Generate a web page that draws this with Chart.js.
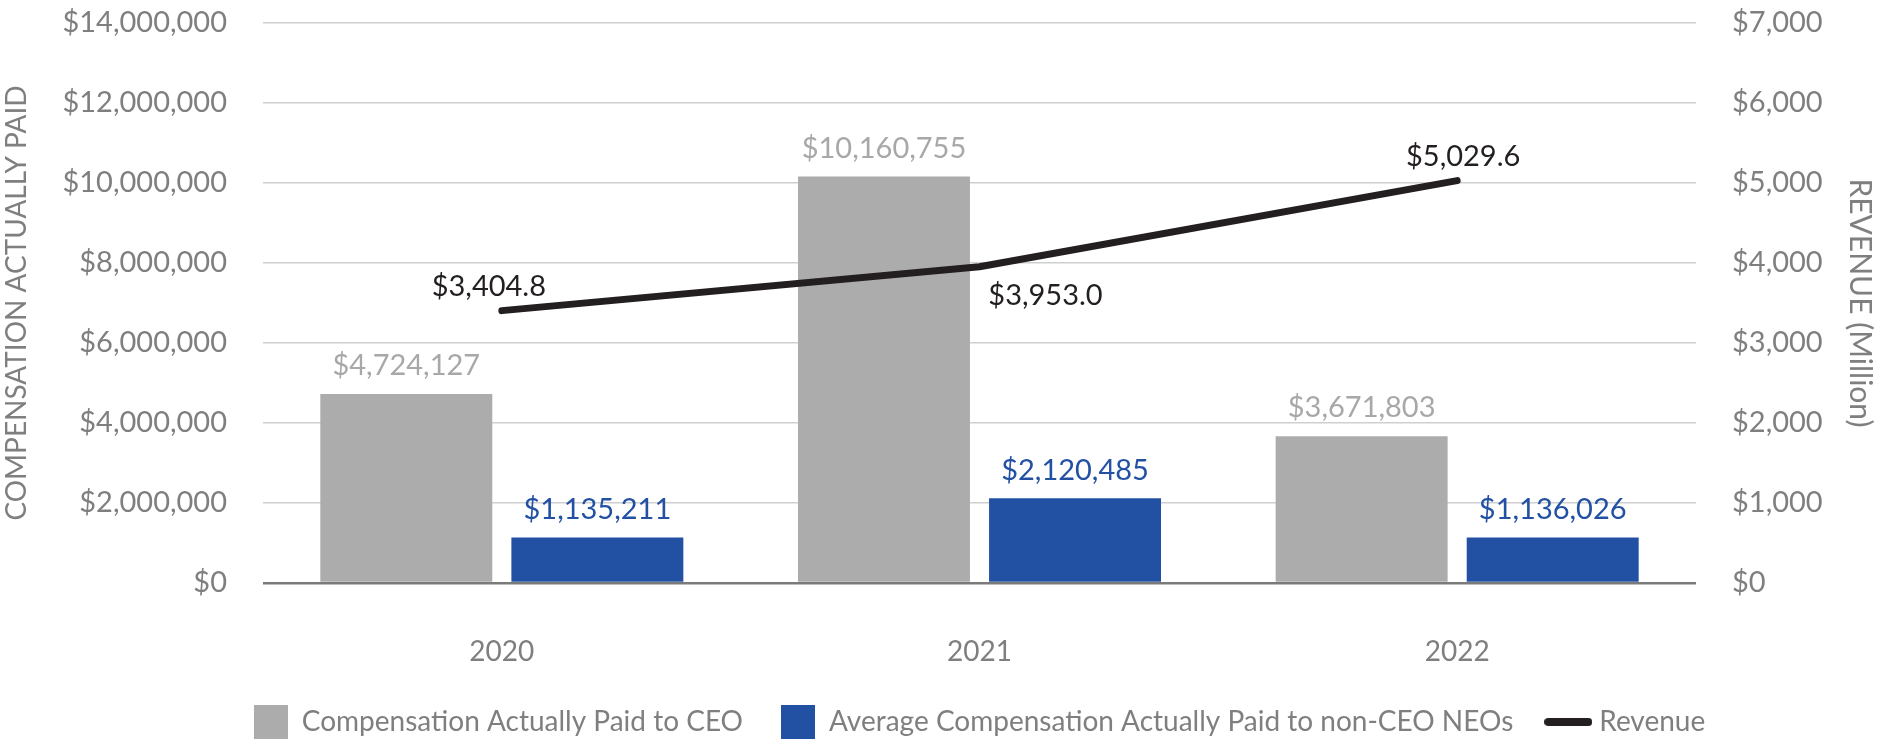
<!DOCTYPE html>
<html lang="en">
<head>
  <meta charset="UTF-8">
  <title>Compensation Actually Paid vs Revenue</title>
  <script src="https://cdn.jsdelivr.net/npm/chart.js"></script>
  <style>
    body { margin: 0; background: #fff; }
    #contenedor { width: 1878px; height: 742px; }
  </style>
</head>
<body>
  <div id="contenedor"><canvas id="grafico"></canvas></div>
<script>
  // data
  const years = ['2020', '2021', '2022'];
  const ceoPay = [4724127, 10160755, 3671803];
  const neoPay = [1135211, 2120485, 1136026];
  const revenue = [3404.8, 3953.0, 5029.6];
  const seriesNames = [
    'Compensation Actually Paid to CEO',
    'Average Compensation Actually Paid to non-CEO NEOs',
    'Revenue'
  ];

  const GRAY = '#adacad';
  const BLUE = '#2251a4';
  const BLACK = '#231f20';
  const TEXT = '#7f7f7f';
  const FONT = 'Lato, "Open Sans", sans-serif';

  // revenue labels don't sit right on the point, nudge them (px)
  const revLabelShift = [[-13, -24], [66, 29], [6, -24]];

  const money = v => '$' + v.toLocaleString('en-US');
  const money1 = v => '$' + v.toLocaleString('en-US', { minimumFractionDigits: 1, maximumFractionDigits: 1 });

  // little canvases used as legend swatches
  function swatch(w, h, color, round) {
    const c = document.createElement('canvas');
    c.width = w;
    c.height = h;
    const g = c.getContext('2d');
    g.fillStyle = color;
    g.beginPath();
    if (round) g.roundRect(0, 0, w, h, h / 2);
    else g.rect(0, 0, w, h);
    g.fill();
    return c;
  }
  const swatches = [swatch(34, 34, GRAY), swatch(34, 34, BLUE), swatch(48, 8, BLACK, true)];

  // value labels over bars / near line points
  const valueLabels = {
    id: 'valueLabels',
    afterDatasetsDraw(chart) {
      const ctx = chart.ctx;
      ctx.save();
      ctx.font = '29px ' + FONT;
      ctx.textAlign = 'center';
      ctx.textBaseline = 'middle';
      chart.data.datasets.forEach((ds, i) => {
        chart.getDatasetMeta(i).data.forEach((el, j) => {
          const v = ds.data[j];
          ctx.fillStyle = ds.labelColor;
          if (ds.type === 'line') {
            ctx.fillText(money1(v), el.x + revLabelShift[j][0], el.y + revLabelShift[j][1]);
          } else {
            ctx.fillText(money(v), el.x, el.y - 28);
          }
        });
      });
      ctx.restore();
    }
  };

  // put the legend row under the plot area, at the same height as the original
  const legendSpot = {
    id: 'legendSpot',
    afterLayout(chart) {
      const L = chart.legend;
      const pad = L.options.labels.padding;
      const fs = L.options.labels.font.size;
      const dx = (chart.chartArea.left + chart.chartArea.right) / 2 - (L.left + L.right) / 2;
      const dy = 722 - (L.top + pad + fs / 2);
      L.left += dx; L.right += dx;
      L.top += dy; L.bottom += dy;
    }
  };

  // no automatic room for half tick labels, the plot area is set by hand
  const noEdgePad = s => { s.paddingTop = 0; s.paddingBottom = 0; };

  const ctx = document.getElementById('grafico').getContext('2d');
  const chart = new Chart(ctx, {
    data: {
      labels: years,
      datasets: [
        { type: 'bar', label: seriesNames[0], data: ceoPay, backgroundColor: GRAY, yAxisID: 'y', order: 1, labelColor: '#a8a8a8' },
        { type: 'bar', label: seriesNames[1], data: neoPay, backgroundColor: BLUE, yAxisID: 'y', order: 1, labelColor: BLUE },
        {
          type: 'line', label: seriesNames[2], data: revenue, yAxisID: 'y1', order: 0,
          borderColor: BLACK, borderWidth: 7, pointRadius: 0, tension: 0,
          borderCapStyle: 'round', borderJoinStyle: 'round', labelColor: BLACK
        }
      ]
    },
    options: {
      responsive: true,
      maintainAspectRatio: false,
      animation: false,
      layout: { padding: { top: 23, left: 0, right: 0, bottom: 0 } },
      plugins: {
        tooltip: { enabled: false },
        legend: {
          position: 'bottom',
          labels: {
            usePointStyle: true,
            pointStyleWidth: 34,
            padding: 38,
            color: TEXT,
            font: { family: FONT, size: 28 },
            generateLabels: ch => ch.data.datasets.map((ds, i) => ({
              text: ds.label,
              pointStyle: swatches[i],
              fillStyle: 'transparent',
              strokeStyle: 'transparent',
              lineWidth: 0,
              fontColor: TEXT,
              hidden: !ch.isDatasetVisible(i),
              datasetIndex: i
            }))
          }
        }
      },
      scales: {
        x: {
          grid: { display: false },
          border: { display: false },
          ticks: { padding: 44, color: TEXT, font: { family: FONT, size: 28 } },
          afterFit(s) { s.height = s.chart.height - 583 - s.chart.legend.height; }
        },
        y: {
          position: 'left',
          min: 0,
          max: 14000000,
          ticks: { stepSize: 2000000, padding: 36, color: TEXT, font: { family: FONT, size: 29 }, callback: v => money(v) },
          grid: {
            drawTicks: false,
            color: c => c.tick.value === 0 ? '#7a7a7a' : '#cfcfcf',
            lineWidth: c => c.tick.value === 0 ? 2.5 : 1.5
          },
          border: { display: false },
          title: { display: true, text: 'COMPENSATION ACTUALLY PAID', color: TEXT, padding: 0, font: { family: FONT, size: 28 } },
          afterFit(s) { s.width = 263; noEdgePad(s); }
        },
        y1: {
          position: 'right',
          min: 0,
          max: 7000,
          ticks: { stepSize: 1000, padding: 36, color: TEXT, font: { family: FONT, size: 29 }, callback: v => money(v) },
          grid: { display: false, drawTicks: false },
          border: { display: false },
          title: { display: true, text: 'REVENUE (Million)', color: TEXT, padding: 0, font: { family: FONT, size: 30 } },
          afterFit(s) { s.width = 182; noEdgePad(s); }
        }
      }
    },
    plugins: [valueLabels, legendSpot]
  });
</script>
</body>
</html>
